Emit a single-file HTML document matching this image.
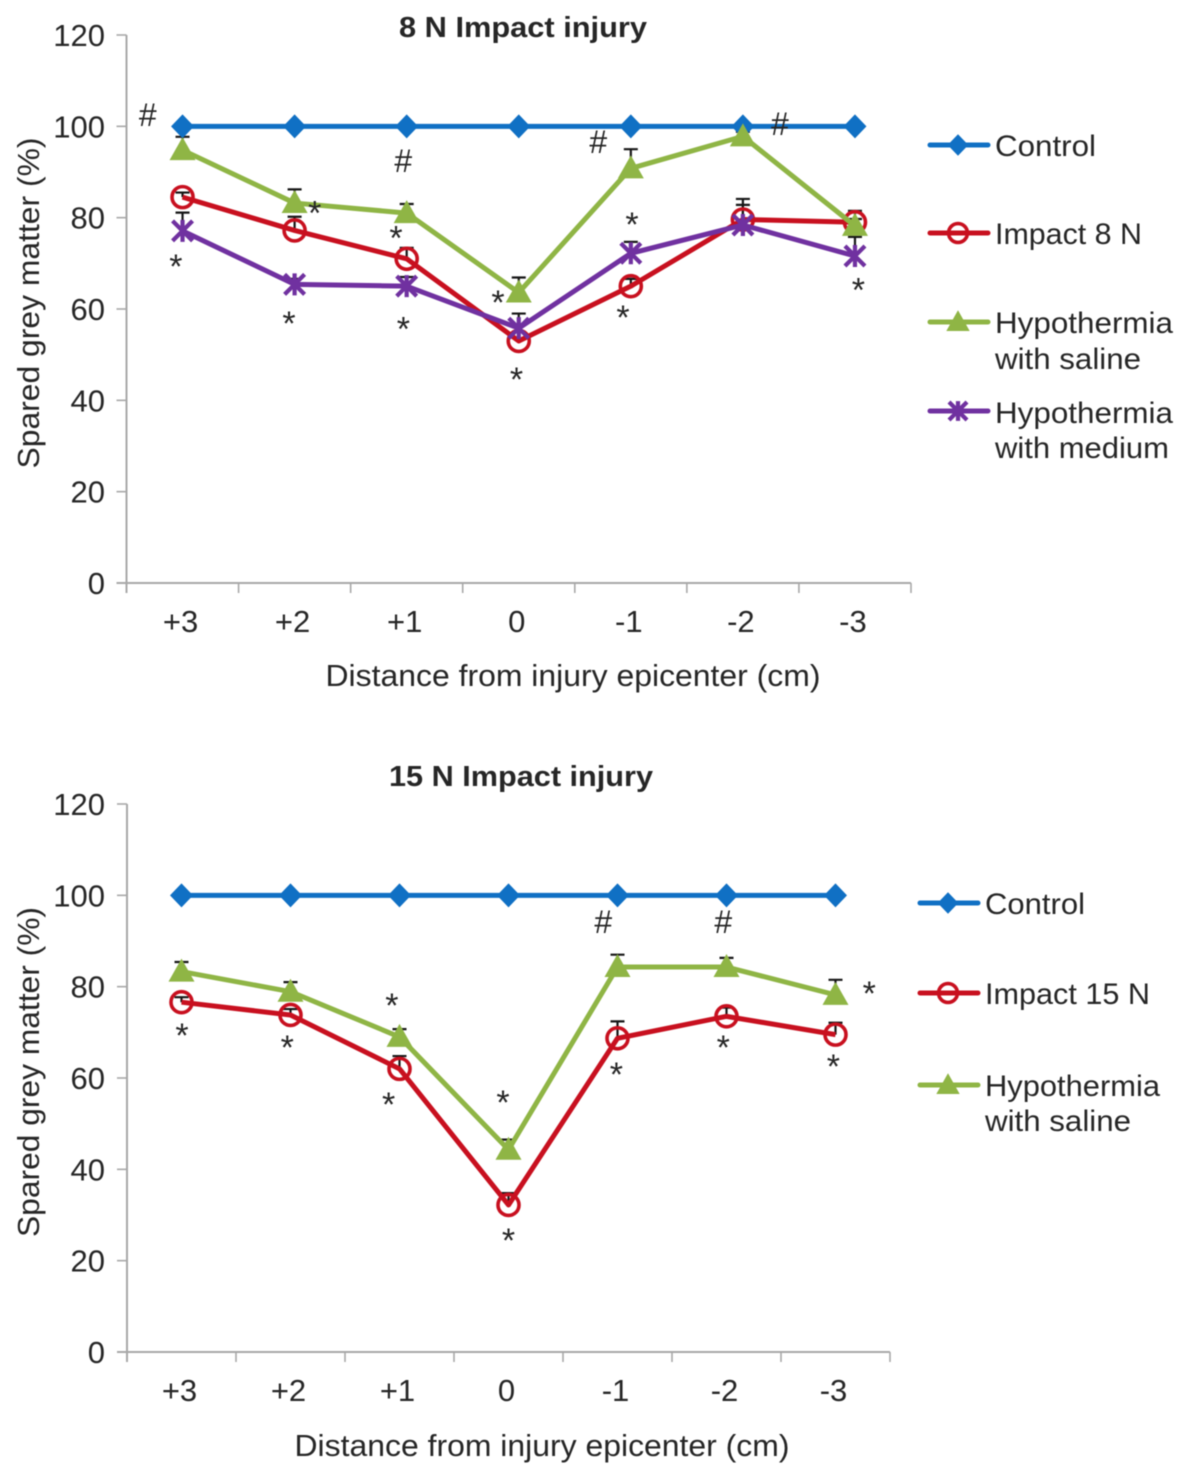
<!DOCTYPE html>
<html lang="en">
<head>
<meta charset="utf-8">
<title>Spared grey matter after impact injury</title>
<style>
html,body{margin:0;padding:0;background:#fff;}
body{width:1192px;height:1480px;overflow:hidden;}
svg{display:block;filter:blur(0.6px);}
text{font-family:"Liberation Sans",Arial,sans-serif;fill:#262626;}
</style>
</head>
<body>
<svg id="figure" xmlns="http://www.w3.org/2000/svg" width="1192" height="1480" viewBox="0 0 1192 1480">
  <rect x="0" y="0" width="1192" height="1480" fill="#fff"/>
  <text x="523" y="37" font-size="29" font-weight="bold" text-anchor="middle" textLength="248" lengthAdjust="spacingAndGlyphs">8 N Impact injury</text>
  <text transform="translate(39,303) rotate(-90)" font-size="31" text-anchor="middle" textLength="331" lengthAdjust="spacingAndGlyphs">Spared grey matter  (%)</text>
  <text x="573" y="686" font-size="31" text-anchor="middle" textLength="495" lengthAdjust="spacingAndGlyphs">Distance from injury epicenter  (cm)</text>
  <text x="521" y="786" font-size="29" font-weight="bold" text-anchor="middle" textLength="264" lengthAdjust="spacingAndGlyphs">15 N Impact injury</text>
  <text transform="translate(39,1072) rotate(-90)" font-size="31" text-anchor="middle" textLength="330" lengthAdjust="spacingAndGlyphs">Spared grey matter  (%)</text>
  <text x="542" y="1456" font-size="31" text-anchor="middle" textLength="495" lengthAdjust="spacingAndGlyphs">Distance from injury epicenter  (cm)</text>

  <text x="995" y="156" font-size="30" textLength="101" lengthAdjust="spacingAndGlyphs">Control</text>
  <text x="995" y="244" font-size="30" textLength="147" lengthAdjust="spacingAndGlyphs">Impact 8 N</text>
  <text x="995" y="333" font-size="30" textLength="178" lengthAdjust="spacingAndGlyphs">Hypothermia</text>
  <text x="995" y="369" font-size="30" textLength="146" lengthAdjust="spacingAndGlyphs">with saline</text>
  <text x="995" y="423" font-size="30" textLength="178" lengthAdjust="spacingAndGlyphs">Hypothermia</text>
  <text x="995" y="458" font-size="30" textLength="174" lengthAdjust="spacingAndGlyphs">with medium</text>

  <text x="985" y="914" font-size="30" textLength="100" lengthAdjust="spacingAndGlyphs">Control</text>
  <text x="985" y="1004" font-size="30" textLength="165" lengthAdjust="spacingAndGlyphs">Impact 15 N</text>
  <text x="985" y="1096" font-size="30" textLength="175" lengthAdjust="spacingAndGlyphs">Hypothermia</text>
  <text x="985" y="1131" font-size="30" textLength="146" lengthAdjust="spacingAndGlyphs">with saline</text>
</svg>
<script>
const categories = ['+3', '+2', '+1', '0', '-1', '-2', '-3'];
const yTickValues = [0, 20, 40, 60, 80, 100, 120];

const chart1Control = [100, 100, 100, 100, 100, 100, 100];
const chart1Impact = [84.5, 77.2, 71, 53, 65, 79.6, 79];
const chart1Saline = [94.8, 83.2, 81, 63.6, 90.8, 97.8, 78.2];
const chart1Medium = [77.1, 65.4, 65, 55.8, 72.2, 78.4, 71.6];
const chart1ImpactErr = [1, 3, 2.4, 2, 1.6, 4.5, 2.5];
const chart1SalineErr = [2.9, 3, 2, 3.3, 4.2, 1, 1.5];
const chart1MediumErr = [4, 1.2, 2, 3.2, 2.5, 4.4, 4.2];
const chart1HashCats = [-0.31, 1.97, 3.71, 5.33];
const chart1HashVals = [102.5, 92.4, 96.6, 100.5];
const chart1StarCats = [-0.06, 0.95, 1.97, 2.98, 3.93, 4.01, 6.03, 1.18, 1.905, 2.815];
const chart1StarVals = [70.7, 58.2, 57, 46, 59.6, 79.9, 65.6, 82.5, 77, 62.8];

const chart2Control = [100, 100, 100, 100, 100, 100, 100];
const chart2Impact = [76.6, 73.8, 62, 32.2, 68.7, 73.5, 69.5];
const chart2Saline = [83.3, 78.9, 69, 44.3, 84.3, 84.3, 78.2];
const chart2ImpactErr = [1.1, 1.3, 2.8, 2.6, 3.7, 1.9, 2.6];
const chart2SalineErr = [2.1, 2.1, 1.7, 2.2, 2.7, 2, 3.3];
const chart2HashCats = [3.87, 4.97];
const chart2HashVals = [94.2, 94.2];
const chart2StarCats = [0.005, 0.97, 1.93, 1.9, 2.95, 3, 3.99, 4.97, 5.98, 6.31];
const chart2StarVals = [70.7, 68.1, 77.3, 55.6, 56.1, 25.8, 62.2, 68.1, 63.9, 79.9];

const BLUE = '#1070c4';
const RED = '#c8101f';
const GREEN = '#8fb545';
const PURPLE = '#7031a0';
const AXIS = '#a8a8a8';
const NS = 'http://www.w3.org/2000/svg';
const root = document.getElementById('figure');

function mk(tag, attrs, parent) {
  const node = document.createElementNS(NS, tag);
  for (const k in attrs) node.setAttribute(k, attrs[k]);
  parent.appendChild(node);
  return node;
}

function drawMarker(parent, kind, cx, cy, color, k) {
  const g = mk('g', {}, parent);
  if (kind === 'diamond') {
    mk('polygon', {points: [cx, cy - 12 * k, cx + 11.5 * k, cy, cx, cy + 12 * k, cx - 11.5 * k, cy].join(' '), fill: color}, g);
  } else if (kind === 'circle') {
    mk('circle', {cx: cx, cy: cy, r: 10.5 * k, fill: 'none', stroke: color, 'stroke-width': 3.6}, g);
  } else if (kind === 'triangle') {
    mk('polygon', {points: [cx, cy - 13 * k, cx + 13 * k, cy + 10 * k, cx - 13 * k, cy + 10 * k].join(' '), fill: color}, g);
  } else {
    const a = 10 * k;
    const b = 11 * k;
    const d = 'M' + (cx - a) + ' ' + (cy - a) + 'L' + (cx + a) + ' ' + (cy + a) +
      'M' + (cx + a) + ' ' + (cy - a) + 'L' + (cx - a) + ' ' + (cy + a) +
      'M' + cx + ' ' + (cy - b) + 'L' + cx + ' ' + (cy + b);
    mk('path', {d: d, fill: 'none', stroke: color, 'stroke-width': 4.2}, g);
  }
  return g;
}

function drawChart(cfg) {
  const yOf = function (v) { return cfg.y0 - v * (cfg.y0 - cfg.y120) / 120; };
  const step = (cfg.xRight - cfg.xLeft) / categories.length;
  const xOf = function (c) { return cfg.xLeft + (c + 0.5) * step; };

  const yAxis = mk('line', {x1: cfg.xLeft, x2: cfg.xLeft, y1: cfg.y120, y2: cfg.y0 + 10, stroke: AXIS, 'stroke-width': 2}, root);
  
  
  const xAxis = mk('line', {x1: cfg.xLeft - 10, x2: cfg.xRight, y1: cfg.y0, y2: cfg.y0, stroke: AXIS, 'stroke-width': 2}, root);
  
  

  yTickValues.forEach(function (v) {
    const tick = mk('line', {x1: cfg.xLeft - 10, x2: cfg.xLeft, y1: yOf(v), y2: yOf(v), stroke: AXIS, 'stroke-width': 1.6}, root);
    
    
    const label = mk('text', {x: 105, y: yOf(v) + 11, 'font-size': 31, 'text-anchor': 'end'}, root);
    label.textContent = String(v);
    
    
  });

  for (let i = 0; i <= categories.length; i++) {
    const tx = cfg.xLeft + i * step;
    const tick = mk('line', {x1: tx, x2: tx, y1: cfg.y0, y2: cfg.y0 + 10, stroke: AXIS, 'stroke-width': 1.6}, root);
    
    
  }
  categories.forEach(function (c, i) {
    const label = mk('text', {x: xOf(i) - 2, y: cfg.y0 + 49, 'font-size': 31, 'text-anchor': 'middle'}, root);
    label.textContent = c;
    
    
  });

  cfg.series.forEach(function (s) {
    if (!s.err) return;
    s.values.forEach(function (v, i) {
      const px = xOf(i);
      const top = yOf(v + s.err[i]);
      const bar = mk('path', {d: 'M' + px + ' ' + yOf(v) + 'L' + px + ' ' + top + 'M' + (px - 7) + ' ' + top + 'L' + (px + 7) + ' ' + top, fill: 'none', stroke: '#161616', 'stroke-width': 2.2}, root);
      
      
    });
  });

  cfg.series.forEach(function (s) {
    const pts = s.values.map(function (v, i) { return xOf(i) + ',' + yOf(v); }).join(' ');
    const line = mk('polyline', {points: pts, fill: 'none', stroke: s.color, 'stroke-width': 5, 'stroke-linejoin': 'round'}, root);
    
    
    s.values.forEach(function (v, i) {
      const m = drawMarker(root, s.kind, xOf(i), yOf(v), s.color, 1);
      
      
    });
    const key = mk('line', {x1: cfg.legendX + 2, x2: cfg.legendX + 60, y1: s.legendY, y2: s.legendY, stroke: s.color, 'stroke-width': 5, 'stroke-linecap': 'round'}, root);
    
    
    const km = drawMarker(root, s.kind, cfg.legendX + 30, s.legendY, s.color, 0.9);
    
    
  });

  cfg.hashCats.forEach(function (c, i) {
    const t = mk('text', {x: xOf(c), y: yOf(cfg.hashVals[i]) + 11, 'font-size': 32, 'text-anchor': 'middle'}, root);
    t.textContent = '#';
    
    
  });
  cfg.starCats.forEach(function (c, i) {
    const t = mk('text', {x: xOf(c), y: yOf(cfg.starVals[i]) + 18, 'font-size': 34, 'text-anchor': 'middle', fill: '#333'}, root);
    t.textContent = '*';
    
    
  });
}

drawChart({
  xLeft: 126.5, xRight: 911, y0: 583, y120: 35, legendX: 928,
  hashCats: chart1HashCats, hashVals: chart1HashVals,
  starCats: chart1StarCats, starVals: chart1StarVals,
  series: [
    {name: 'control', kind: 'diamond', color: BLUE, values: chart1Control, legendY: 145},
    {name: 'impact-8n', kind: 'circle', color: RED, values: chart1Impact, err: chart1ImpactErr, legendY: 233},
    {name: 'hypothermia-saline', kind: 'triangle', color: GREEN, values: chart1Saline, err: chart1SalineErr, legendY: 322},
    {name: 'hypothermia-medium', kind: 'star', color: PURPLE, values: chart1Medium, err: chart1MediumErr, legendY: 411}
  ]
});

drawChart({
  xLeft: 127, xRight: 890, y0: 1352, y120: 804, legendX: 918,
  hashCats: chart2HashCats, hashVals: chart2HashVals,
  starCats: chart2StarCats, starVals: chart2StarVals,
  series: [
    {name: 'control-15n', kind: 'diamond', color: BLUE, values: chart2Control, legendY: 903},
    {name: 'impact-15n', kind: 'circle', color: RED, values: chart2Impact, err: chart2ImpactErr, legendY: 993},
    {name: 'hypothermia-saline-15n', kind: 'triangle', color: GREEN, values: chart2Saline, err: chart2SalineErr, legendY: 1085}
  ]
});
</script>
</body>
</html>
